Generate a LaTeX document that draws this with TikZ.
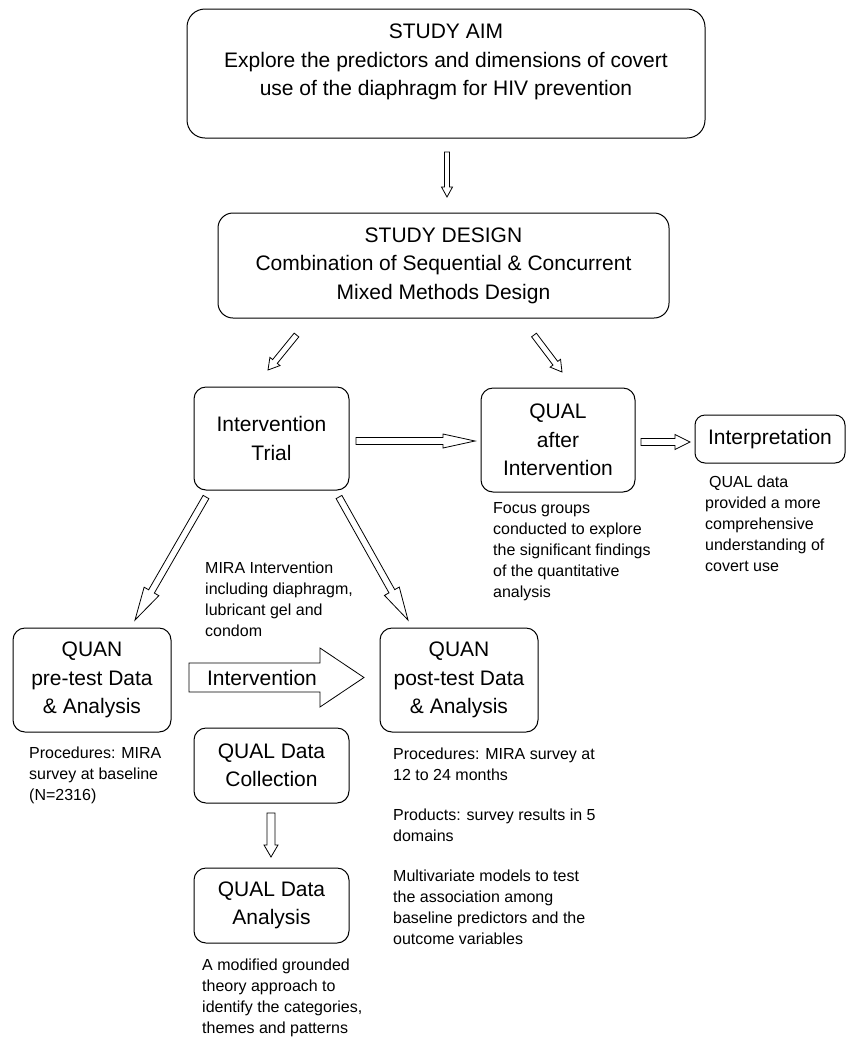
\documentclass[tikz,border=0pt]{standalone}
\usepackage{fontspec}
\setmainfont{Liberation Sans}
\usetikzlibrary{calc}
\tikzset{
  box/.style={draw, line width=1pt, rounded corners=12pt, inner sep=0pt},
  boxtext/.style={font=\fontsize{21}{28.5}\selectfont, align=center},
  small/.style={font=\fontsize{16}{21}\selectfont, align=left, anchor=north west, inner sep=0pt},
  barrow/.style={draw, line width=0.8pt, fill=white, line join=miter},
}
\newcommand\blockarrow[5]{%
  \coordinate (ba-h) at ($(#2)!#5!(#1)$);
  \draw[barrow] ($(#1)!#3!90:(#2)$) -- ($(ba-h)!#3!90:(#2)$) -- ($(ba-h)!#4!90:(#2)$) -- (#2)
    -- ($(ba-h)!#4!-90:(#2)$) -- ($(ba-h)!#3!-90:(#2)$) -- ($(#1)!#3!-90:(#2)$) -- cycle;}
\begin{document}
\begin{tikzpicture}[x=1pt,y=-1pt]
\useasboundingbox (0,0) rectangle (846,1037);

% boxes
\node[box, rounded corners=18pt, minimum width=518pt, minimum height=129pt] (aim) at (446,73.5) {};
\node[boxtext] (aimtxt) at (446,62) {STUDY AIM\\Explore the predictors and dimensions of covert\\use of the diaphragm for HIV prevention};
\node[box, boxtext, rounded corners=15pt, minimum width=451pt, minimum height=105pt] (design) at (443.5,265.5)
  {STUDY DESIGN\\Combination of Sequential \& Concurrent\\Mixed Methods Design};
\node[box, boxtext, minimum width=155pt, minimum height=103pt] (trial) at (271.5,438.5) {Intervention\\Trial};
\node[box, boxtext, minimum width=154pt, minimum height=104pt] (qualafter) at (558,440) {QUAL\\after\\Intervention};
\node[box, boxtext, rounded corners=10pt, minimum width=150pt, minimum height=48pt] (interp) at (770,439) {Interpretation};
\node[box, boxtext, minimum width=158pt, minimum height=104pt] (pre) at (92,680) {QUAN\\pre-test Data\\\& Analysis};
\node[box, boxtext, minimum width=158pt, minimum height=104pt] (post) at (459,680) {QUAN\\post-test Data\\\& Analysis};
\node[box, boxtext, minimum width=155pt, minimum height=75pt] (collect) at (271.5,765.5) {QUAL Data\\Collection};
\node[box, boxtext, minimum width=155pt, minimum height=75pt] (analysis) at (271.5,905.5) {QUAL Data\\Analysis};

% notes
\node[small] (focus) at (493,502) {Focus groups\\conducted to explore\\the significant findings\\of the quantitative\\analysis};
\node[small] (interpnote) at (705,476) {\hspace{4pt}QUAL data\\provided a more\\comprehensive\\understanding of\\covert use};
\node[small] (mira) at (205,562) {MIRA Intervention\\including diaphragm,\\lubricant gel and\\condom};
\node[small] (prenote) at (29,747) {Procedures: MIRA\\survey at baseline\\(N=2316)};
\node[small] (postnote1) at (393,748) {Procedures: MIRA survey at\\12 to 24 months};
\node[small] (postnote2) at (393,809) {Products: survey results in 5\\domains};
\node[small] (postnote3) at (393,870) {Multivariate models to test\\the association among\\baseline predictors and the\\outcome variables};
\node[small] (anote) at (202,959) {A modified grounded\\theory approach to\\identify the categories,\\themes and patterns};

% arrow end points
\coordinate (a1s) at (447,152);   \coordinate (a1e) at (447,197);
\coordinate (a2s) at (296.5,335); \coordinate (a2e) at (268,370);
\coordinate (a3s) at (534,335);   \coordinate (a3e) at (562,372);
\coordinate (a4s) at (356,441);   \coordinate (a4e) at (475,441);
\coordinate (a5s) at (641,442);   \coordinate (a5e) at (690,442);
\coordinate (a6s) at (206,497);   \coordinate (a6e) at (135,620);
\coordinate (a7s) at (339,497);   \coordinate (a7e) at (408,620);
\coordinate (a8s) at (271,813);   \coordinate (a8e) at (271,857);

\blockarrow{a1s}{a1e}{2.5pt}{5.5pt}{10pt}
\blockarrow{a2s}{a2e}{3pt}{6.5pt}{11pt}
\blockarrow{a3s}{a3e}{3pt}{6.5pt}{11pt}
\blockarrow{a4s}{a4e}{3.5pt}{7pt}{32pt}
\blockarrow{a5s}{a5e}{3.5pt}{7.5pt}{15pt}
\blockarrow{a6s}{a6e}{3.3pt}{8.5pt}{33pt}
\blockarrow{a7s}{a7e}{3.3pt}{8.5pt}{33pt}
\blockarrow{a8s}{a8e}{4pt}{7pt}{12pt}

% big Intervention arrow
\coordinate (bigs) at (189,677.5);
\coordinate (bige) at (364,677.5);
\draw[barrow] (bigs) ++(0,-14.5) -- (320,663) -- (320,648) -- (bige) -- (320,707) -- (320,692) -- (189,692) -- cycle;
\node[font=\fontsize{21}{25}\selectfont, inner sep=0pt] (intlabel) at (262,678) {Intervention};
\end{tikzpicture}
\end{document}
